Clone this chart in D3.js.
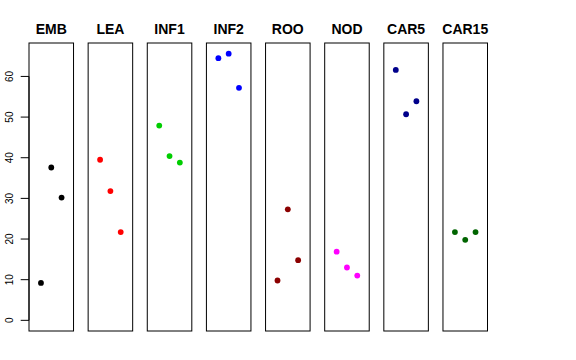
<!DOCTYPE html>
<html><head><meta charset="utf-8">
<script src="https://cdn.jsdelivr.net/npm/d3@7"></script>
<style>body{margin:0;background:#fff}svg{display:block}</style>
</head><body>
<script>
const categories = ["EMB","LEA","INF1","INF2","ROO","NOD","CAR5","CAR15"];
const colors = ["#000000","#FF0000","#00CD00","#0000FF","#8B0000","#FF00FF","#00008B","#006400"];
const rep1 = [9.2, 39.5, 47.9, 64.5, 9.8, 16.9, 61.6, 21.7];
const rep2 = [37.6, 31.8, 40.4, 65.6, 27.3, 13.0, 50.7, 19.8];
const rep3 = [30.2, 21.7, 38.8, 57.2, 14.8, 11.0, 53.9, 21.7];
const yTicks = [0,10,20,30,40,50,60];

const W=576,H=360;
const svg=d3.select("body").append("svg").attr("width",W).attr("height",H);
const yMax=65.6, ext=0.04*yMax;
const y=d3.scaleLinear().domain([-ext,yMax+ext]).range([331,43]);
const band=d3.scaleBand().domain(categories).range([29,487.5]).paddingInner(0.247).paddingOuter(0);
const bw=band.bandwidth();
const xi=d3.scaleLinear().domain([-0.16,4.16]).range([0,bw]);

categories.forEach((c,i)=>{
  const g=svg.append("g").attr("transform",`translate(${band(c)},0)`);
  g.append("rect").attr("x",0).attr("y",y.range()[1]).attr("width",bw)
   .attr("height",y.range()[0]-y.range()[1]).attr("fill","none").attr("stroke","#000").attr("stroke-width",1);
  g.append("text").attr("x",bw/2).attr("y",34).attr("text-anchor","middle")
   .attr("font-family","Liberation Sans, Arial, sans-serif").attr("font-weight","bold").attr("font-size",14).text(c);
  const vals=[rep1[i],rep2[i],rep3[i]];
  g.selectAll("circle").data(vals).enter().append("circle")
   .attr("cx",(d,j)=>xi(j+1)).attr("cy",d=>y(d)).attr("r",2.9).attr("fill",colors[i]);
});

const ax=svg.append("g").attr("transform",`translate(${band(categories[0])},0)`);
ax.append("line").attr("x1",0).attr("x2",0).attr("y1",y(0)).attr("y2",y(60)).attr("stroke","#000");
yTicks.forEach(t=>{
  ax.append("line").attr("x1",-8.3).attr("x2",0).attr("y1",y(t)).attr("y2",y(t)).attr("stroke","#000");
  ax.append("text").attr("transform",`translate(${-16.5},${y(t)}) rotate(-90)`)
   .attr("text-anchor","middle").attr("font-family","Liberation Sans, Arial, sans-serif")
   .attr("font-size",10).text(t);
});
</script>
</body></html>
